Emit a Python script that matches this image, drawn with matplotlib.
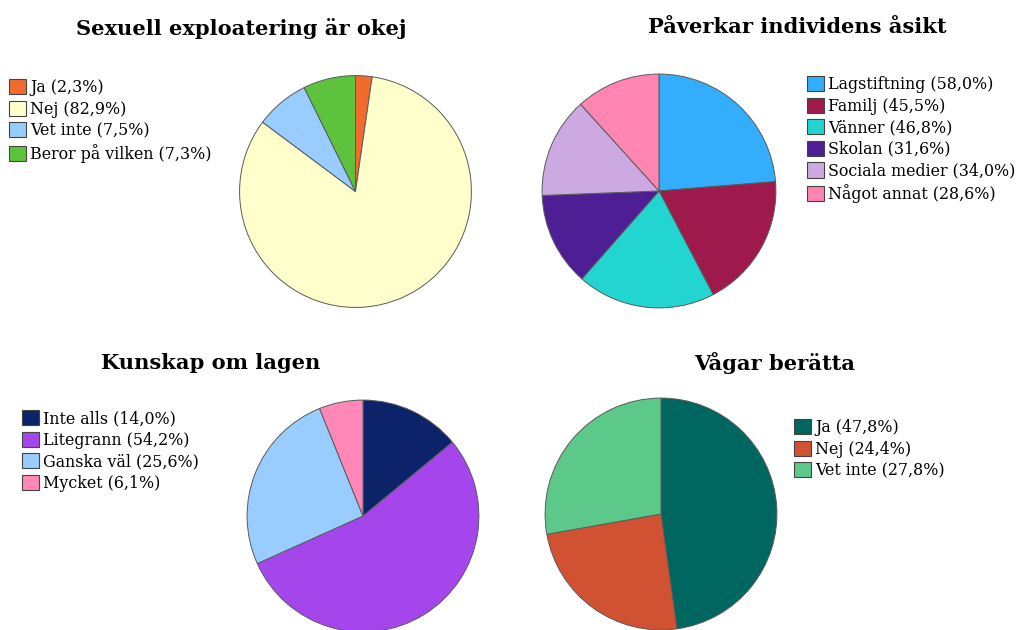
import matplotlib
matplotlib.use("Agg")
import matplotlib.pyplot as plt

W, H = 1017, 630
DPI = 100

# ---------------- data ----------------
t1_title = "Sexuell exploatering är okej"
t1_labels = ["Ja", "Nej", "Vet inte", "Beror på vilken"]
t1_values = [2.3, 82.9, 7.5, 7.3]
t1_colors = ["#F26B2E", "#FFFFCC", "#99CCFF", "#5EC33C"]

t2_title = "Påverkar individens åsikt"
t2_labels = ["Lagstiftning", "Familj", "Vänner", "Skolan", "Sociala medier", "Något annat"]
t2_values = [58.0, 45.5, 46.8, 31.6, 34.0, 28.6]
t2_colors = ["#33AEFC", "#9E1A4C", "#22D5D0", "#4E1E94", "#CCA9E0", "#FF85B3"]

t3_title = "Kunskap om lagen"
t3_labels = ["Inte alls", "Litegrann", "Ganska väl", "Mycket"]
t3_values = [14.0, 54.2, 25.6, 6.1]
t3_colors = ["#0C236A", "#A546ED", "#99CCFF", "#FF88B8"]

t4_title = "Vågar berätta"
t4_labels = ["Ja", "Nej", "Vet inte"]
t4_values = [47.8, 24.4, 27.8]
t4_colors = ["#006660", "#D05232", "#5CC98A"]


def fmt(v):
    return ("%.1f" % v).replace(".", ",")


fig = plt.figure(figsize=(W / DPI, H / DPI), dpi=DPI)
fig.patch.set_facecolor("white")

SERIF = ["DejaVu Serif"]


def pie_panel(values, colors, labels, cx, cy, r, leg_x, leg_y, title, tx, ty):
    ax = fig.add_axes([(cx - r) / W, (H - cy - r) / H, 2 * r / W, 2 * r / H])
    wedges, _ = ax.pie(values, colors=colors, startangle=90, counterclock=False,
                       wedgeprops=dict(edgecolor="#5a5a5a", linewidth=0.7))
    ax.set_xlim(-1.005, 1.005)
    ax.set_ylim(-1.005, 1.005)
    ax.set_aspect("equal")
    ax.axis("off")
    labs = ["%s (%s%%)" % (l, fmt(v)) for l, v in zip(labels, values)]
    leg = fig.legend(wedges, labs, loc="upper left",
                     bbox_to_anchor=(leg_x / W, 1 - leg_y / H),
                     bbox_transform=fig.transFigure, frameon=False,
                     handlelength=1.1, handleheight=1.1, handletextpad=0.25,
                     labelspacing=0.29, borderpad=0, borderaxespad=0,
                     prop=dict(family=SERIF, size=11.4))
    for h in leg.legend_handles:
        h.set_edgecolor("#444444")
        h.set_linewidth(0.8)
    fig.text(tx / W, 1 - ty / H, title, ha="center", va="center",
             fontsize=15.1, fontweight="bold", family=SERIF)
    return ax


pie_panel(t1_values, t1_colors, t1_labels, 355.5, 191.5, 116.5, 9, 79, t1_title, 241, 29)
pie_panel(t2_values, t2_colors, t2_labels, 659, 191, 117.5, 807, 76, t2_title, 797, 27)
pie_panel(t3_values, t3_colors, t3_labels, 363, 516, 116.5, 22, 410, t3_title, 211, 363)
pie_panel(t4_values, t4_colors, t4_labels, 661, 514, 116.5, 794, 419, t4_title, 775, 363)

fig.savefig("out.png", dpi=DPI, facecolor="white")
